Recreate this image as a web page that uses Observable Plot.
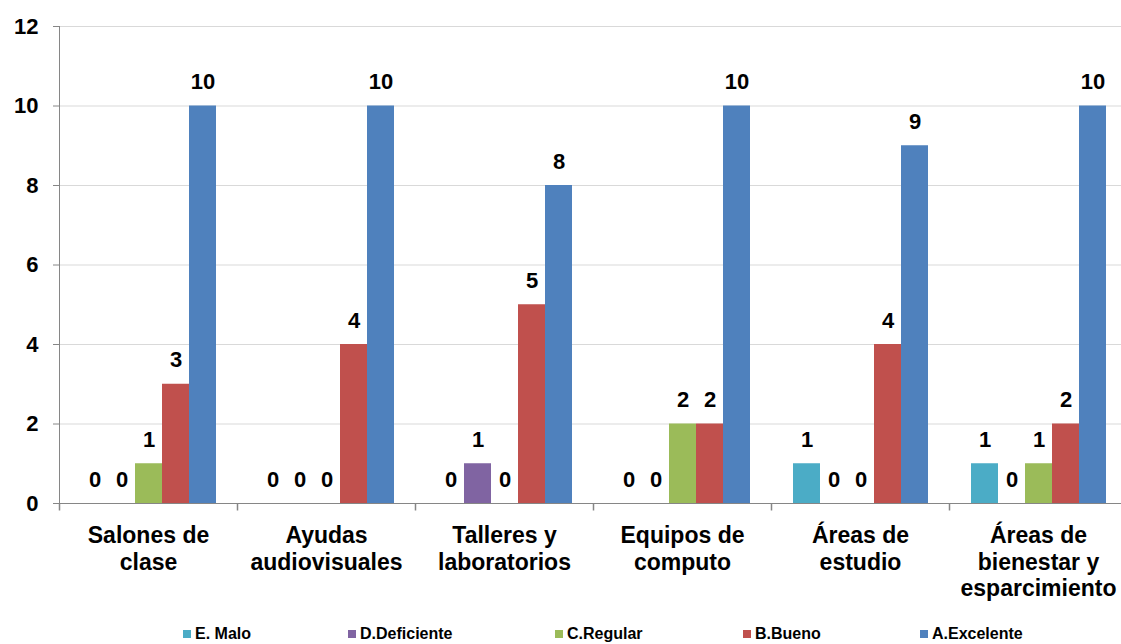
<!DOCTYPE html>
<html><head><meta charset="utf-8">
<script src="https://cdn.jsdelivr.net/npm/d3@7"></script>
<script src="https://cdn.jsdelivr.net/npm/@observablehq/plot@0.6"></script>
<style>
body{margin:0;background:#fff;overflow:hidden;font-family:"Liberation Sans",Arial,sans-serif;}
#wrap{position:relative;width:1121px;height:644px;overflow:hidden;}
#legend{position:absolute;top:625px;left:0;width:1121px;height:18px;font-size:16px;font-weight:bold;color:#000;}
.item{position:absolute;top:0;display:flex;align-items:center;white-space:nowrap;line-height:18px;}
.sw{width:8px;height:8px;margin-right:4px;}
</style></head><body><div id="wrap"><div id="chart"></div><div id="legend"></div></div>
<script>
const categories = ["Salones de clase","Ayudas audiovisuales","Talleres y laboratorios","Equipos de computo","Áreas de estudio","Áreas de bienestar y esparcimiento"];
const categoryLabels = ["Salones de\nclase","Ayudas\naudiovisuales","Talleres y\nlaboratorios","Equipos de\ncomputo","Áreas de\nestudio","Áreas de\nbienestar y\nesparcimiento"];
const series = ["E. Malo","D.Deficiente","C.Regular","B.Bueno","A.Excelente"];
const colors = ["#4bacc6","#8064a2","#9bbb59","#c0504d","#4f81bd"];
const malo = [0,0,0,0,1,1];
const deficiente = [0,0,1,0,0,0];
const regular = [1,0,0,2,0,1];
const bueno = [3,4,5,2,4,2];
const excelente = [10,10,8,10,9,10];
const yTicks = [0,2,4,6,8,10,12];
const legendOffsets = [183,348,555,743,920];

const values = [malo, deficiente, regular, bueno, excelente];
const rows = [];
categories.forEach((c, i) => series.forEach((s, j) => rows.push({category: c, series: s, value: values[j][i]})));

const axisGray = "#868686";
const tickMark = {draw(ctx){ctx.moveTo(0,0); ctx.lineTo(0,7);}};

const chart = Plot.plot({
  width: 1121, height: 612,
  marginLeft: 58, marginRight: -7, marginTop: 26, marginBottom: 109,
  style: {fontFamily: '"Liberation Sans", Arial, sans-serif', background: "white", color: "black"},
  fx: {domain: categories, padding: 0, label: null},
  x: {domain: series, paddingInner: 0, paddingOuter: 0.75, axis: null},
  y: {domain: [0, 12], label: null},
  color: {domain: series, range: colors},
  marks: [
    Plot.gridY(yTicks, {stroke: "#d9d9d9", strokeOpacity: 1}),
    Plot.axisY(yTicks, {tickSize: 6, tickPadding: 15, fontSize: 22, fontWeight: "bold", stroke: axisGray, fill: "black", label: null}),
    Plot.frame({anchor: "left", stroke: axisGray, facetAnchor: "left"}),
    Plot.barY(rows, {fx: "category", x: "series", y: "value", fill: "series"}),
    Plot.ruleY([0], {stroke: axisGray}),
    Plot.dot([0], {frameAnchor: "bottom-left", symbol: tickMark, stroke: axisGray, fill: "none"}),
    Plot.text(rows, {fx: "category", x: "series", y: "value", text: d => String(d.value), dy: -24, fontSize: 22, fontWeight: "bold", fill: "black"}),
    Plot.axisFx({anchor: "bottom", tickSize: 0, tickPadding: 20, fontSize: 23, fontWeight: "bold", lineHeight: 1.17, fill: "black",
      tickFormat: c => categoryLabels[categories.indexOf(c)], label: null})
  ]
});
document.getElementById("chart").appendChild(chart);

const legend = document.getElementById("legend");
series.forEach((s, i) => {
  const item = document.createElement("div");
  item.className = "item";
  item.style.left = legendOffsets[i] + "px";
  const sw = document.createElement("span");
  sw.className = "sw";
  sw.style.background = colors[i];
  const t = document.createElement("span");
  t.textContent = s;
  item.appendChild(sw); item.appendChild(t);
  legend.appendChild(item);
});
</script></body></html>
